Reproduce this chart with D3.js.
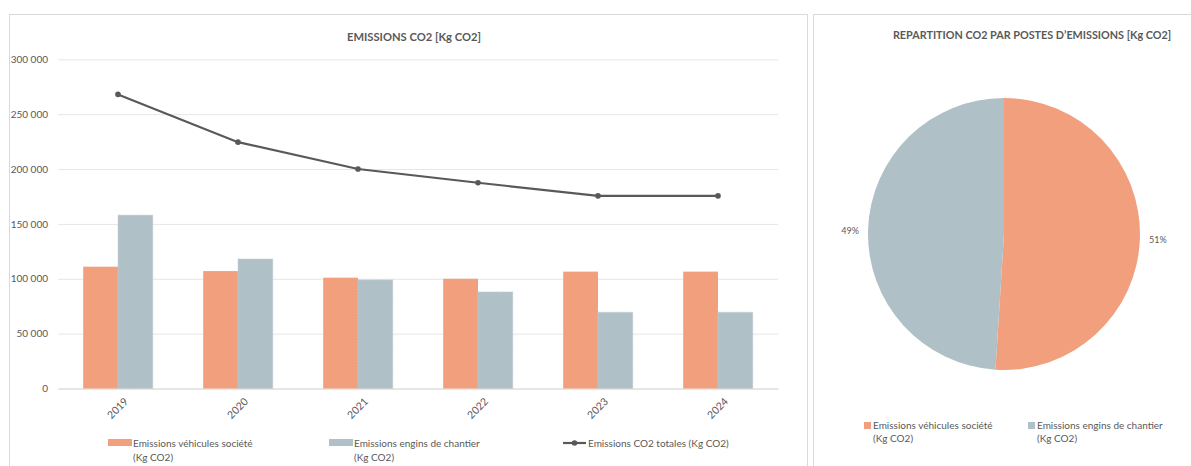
<!DOCTYPE html>
<html>
<head>
<meta charset="utf-8">
<script src="https://cdn.jsdelivr.net/npm/d3@7"></script>
<style>
  body { margin: 0; background: #fff; }
  svg { display: block; font-family: Lato, 'Liberation Sans', sans-serif; }
</style>
</head>
<body>
<div id="chart"></div>
<script>
const years = ['2019', '2020', '2021', '2022', '2023', '2024']
const vehicules = [111000, 107000, 101000, 100000, 106500, 106500]
const engins = [158000, 118000, 99000, 88000, 69500, 69500]
const totales = [268000, 224500, 200000, 187500, 175500, 175500]
const yTicks = [0, 50000, 100000, 150000, 200000, 250000, 300000]
const pieLabels = ['Emissions véhicules société', 'Emissions engins de chantier']
const pieShares = [51, 49]

const colors = { vehicules: '#f19f7c', engins: '#afc0c6', line: '#595959', text: '#595959', grid: '#e6e6e6', border: '#d9d9d9' }

const svg = d3.select('#chart')
  .append('svg')
  .attr('width', 1191)
  .attr('height', 466)

// panel frames
svg.append('rect').attr('x', 9.5).attr('y', 14.5).attr('width', 798).attr('height', 470)
  .attr('fill', 'none').attr('stroke', colors.border)
svg.append('rect').attr('x', 813.5).attr('y', 14.5).attr('width', 400).attr('height', 470)
  .attr('fill', 'none').attr('stroke', colors.border)

// ---- bar + line chart ----
let x = d3.scaleBand().domain(years).range([58, 778]).paddingInner(0.42).paddingOuter(0.21)
let y = d3.scaleLinear().domain([0, 300000]).range([388.5, 59.3])
let fmt = v => d3.format(',')(v).replace(/,/g, ' ')

svg.append('text')
  .attr('x', 414).attr('y', 41)
  .attr('text-anchor', 'middle')
  .attr('font-size', 11.2).attr('font-weight', 'bold')
  .attr('fill', colors.text)
  .text('EMISSIONS CO2 [Kg CO2]')

let yAxis = svg.append('g')
  .attr('transform', 'translate(58,0)')
  .call(d3.axisLeft(y).tickValues(yTicks).tickFormat(fmt).tickSize(-720).tickPadding(10))
yAxis.select('.domain').remove()
yAxis.selectAll('.tick line').attr('stroke', colors.grid)
yAxis.selectAll('.tick text').attr('fill', colors.text).attr('font-size', 10).attr('font-family', 'Lato, sans-serif')

let xAxis = svg.append('g')
  .attr('transform', 'translate(0,388.5)')
  .call(d3.axisBottom(x).tickSize(0).tickPadding(13))
xAxis.select('.domain').attr('stroke', '#d9d9d9')
xAxis.selectAll('.tick text')
  .attr('fill', colors.text).attr('font-size', 10.5).attr('font-family', 'Lato, sans-serif')
  .attr('text-anchor', 'end')
  .attr('transform', 'rotate(-45) translate(-2,-2)')
  .attr('dy', '0.6em')

let bw = x.bandwidth() / 2
let groups = svg.append('g').selectAll('g')
  .data(years)
  .join('g')
  .attr('transform', d => `translate(${x(d)},0)`)

groups.append('rect')
  .attr('x', 0).attr('width', bw)
  .attr('y', (d, i) => y(vehicules[i]))
  .attr('height', (d, i) => y(0) - y(vehicules[i]))
  .attr('fill', colors.vehicules)

groups.append('rect')
  .attr('x', bw).attr('width', bw)
  .attr('y', (d, i) => y(engins[i]))
  .attr('height', (d, i) => y(0) - y(engins[i]))
  .attr('fill', colors.engins)
  .attr('stroke', '#c5d1d5').attr('stroke-dasharray', '2,1').attr('stroke-width', 0.8)

let line = d3.line()
  .x((d, i) => x(years[i]) + x.bandwidth() / 2)
  .y(d => y(d))

svg.append('path')
  .datum(totales)
  .attr('d', line)
  .attr('fill', 'none')
  .attr('stroke', colors.line)
  .attr('stroke-width', 2.2)

svg.append('g').selectAll('circle')
  .data(totales)
  .join('circle')
  .attr('cx', (d, i) => x(years[i]) + x.bandwidth() / 2)
  .attr('cy', d => y(d))
  .attr('r', 2.8)
  .attr('fill', colors.line)

// legend (bar chart)
let leg = svg.append('g').attr('font-size', 10).attr('fill', colors.text)
let legItems = [
  { x: 108, kind: 'rect', color: colors.vehicules, lines: ['Emissions véhicules société', '(Kg CO2)'] },
  { x: 329, kind: 'rect', color: colors.engins, lines: ['Emissions engins de chantier', '(Kg CO2)'] },
  { x: 563, kind: 'line', color: colors.line, lines: ['Emissions CO2 totales (Kg CO2)'] }
]
legItems.forEach(function(it) {
  if (it.kind === 'rect') {
    leg.append('rect').attr('x', it.x).attr('y', 439).attr('width', 24).attr('height', 7).attr('fill', it.color)
  } else {
    leg.append('line').attr('x1', it.x).attr('x2', it.x + 23).attr('y1', 443).attr('y2', 443)
      .attr('stroke', it.color).attr('stroke-width', 2.2)
    leg.append('circle').attr('cx', it.x + 11.5).attr('cy', 443).attr('r', 2.8).attr('fill', it.color)
  }
  let t = leg.append('text').attr('x', it.x + 25).attr('y', 447)
  it.lines.forEach(function(l, i) {
    t.append('tspan').attr('x', it.x + 25).attr('dy', i === 0 ? 0 : 13.5).text(l)
  })
})

// ---- pie chart ----
svg.append('text')
  .attr('x', 1032).attr('y', 39)
  .attr('text-anchor', 'middle')
  .attr('font-size', 10.8).attr('font-weight', 'bold')
  .attr('fill', colors.text)
  .text('REPARTITION CO2 PAR POSTES D\u2019EMISSIONS [Kg CO2]')

let pieColors = [colors.vehicules, colors.engins]
let pie = d3.pie().sort(null)(pieShares)
let arc = d3.arc().innerRadius(0).outerRadius(136)
let pg = svg.append('g').attr('transform', 'translate(1004,234)')
pg.selectAll('path')
  .data(pie)
  .join('path')
  .attr('d', arc)
  .attr('fill', (d, i) => pieColors[i])

let labelArc = d3.arc().innerRadius(154).outerRadius(154)
pg.selectAll('text')
  .data(pie)
  .join('text')
  .attr('transform', d => `translate(${labelArc.centroid(d)})`)
  .attr('text-anchor', 'middle')
  .attr('dy', '0.5em')
  .attr('font-size', 9)
  .attr('fill', colors.text)
  .text(d => d.data + '%')

let pleg = svg.append('g').attr('font-size', 10).attr('fill', colors.text)
pieLabels.forEach(function(l, i) {
  let lx = [864, 1028][i]
  pleg.append('rect').attr('x', lx).attr('y', 422).attr('width', 7).attr('height', 7).attr('fill', pieColors[i])
  let t = pleg.append('text').attr('x', lx + 9).attr('y', 429)
  t.append('tspan').attr('x', lx + 9).text(l)
  t.append('tspan').attr('x', lx + 9).attr('dy', 13).text('(Kg CO2)')
})
</script>
</body>
</html>
